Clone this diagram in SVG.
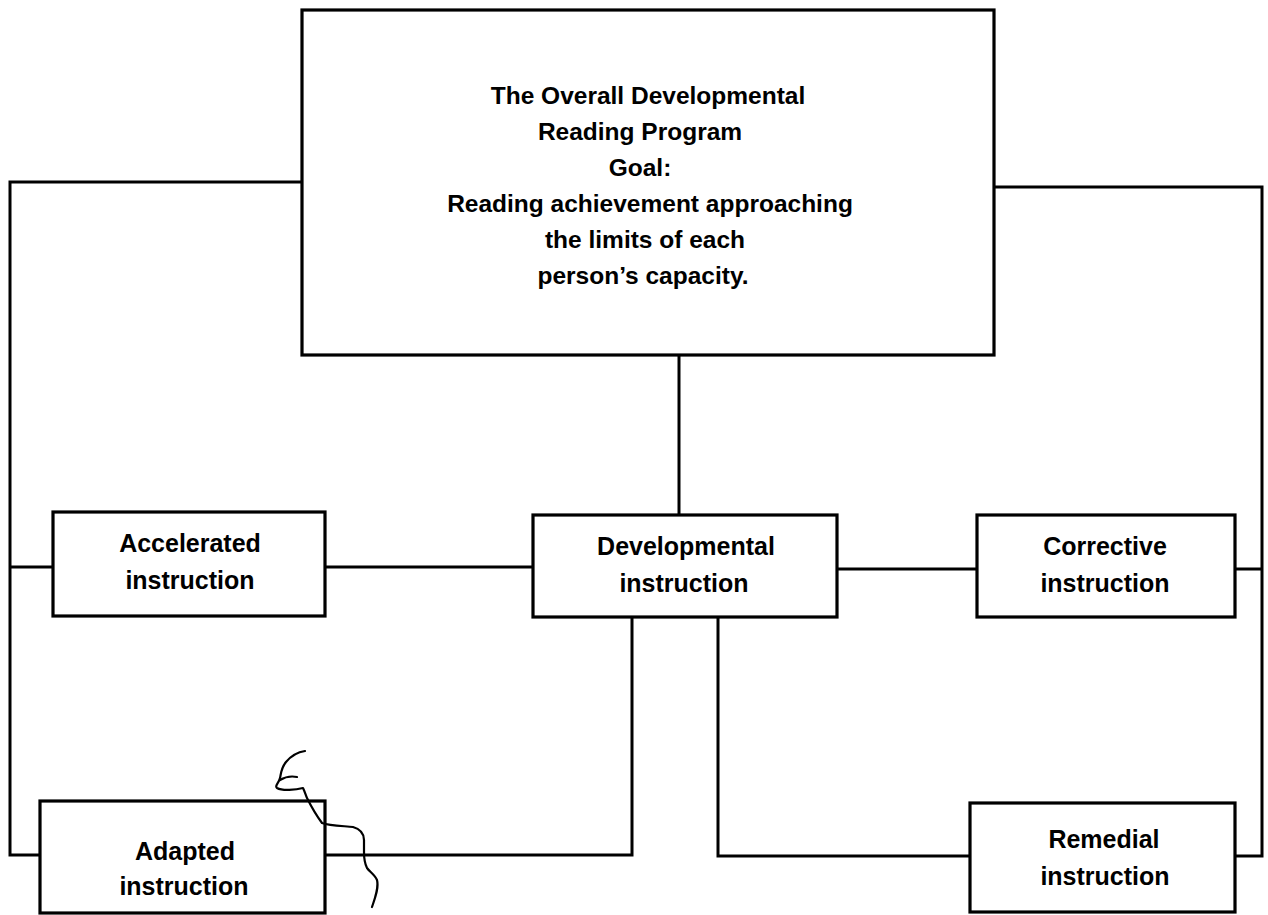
<svg xmlns="http://www.w3.org/2000/svg" width="1268" height="915" viewBox="0 0 1268 915">
<style>
.box{fill:#fff;stroke:#000;stroke-width:3.2}
.ln{fill:none;stroke:#000;stroke-width:3;stroke-linejoin:miter}
.t{font-family:"Liberation Sans",Arial,sans-serif;font-weight:bold;font-size:25px;fill:#000;text-anchor:middle}
.tt{font-family:"Liberation Sans",Arial,sans-serif;font-weight:bold;font-size:24.5px;fill:#000;text-anchor:middle}
.mark{fill:none;stroke:#000;stroke-width:2.2;stroke-linecap:round;stroke-linejoin:round}
</style>
<rect width="1268" height="915" fill="#fff"/>
<g id="connectors">
<polyline class="ln" points="302,182 10,182 10,855 40,855"/>
<line class="ln" x1="10" y1="567" x2="53" y2="567"/>
<polyline class="ln" points="994,187 1262,187 1262,856 1235,856"/>
<line class="ln" x1="1235" y1="569" x2="1262" y2="569"/>
<line class="ln" x1="679" y1="355" x2="679" y2="515"/>
<line class="ln" x1="325" y1="567" x2="533" y2="567"/>
<line class="ln" x1="837" y1="569" x2="977" y2="569"/>
<polyline class="ln" points="632,617 632,855 325,855"/>
<polyline class="ln" points="718,617 718,856 970,856"/>
</g>
<g id="goal">
<rect class="box" x="302" y="10" width="692" height="345"/>
<text class="tt" x="648" y="104">The Overall Developmental</text>
<text class="tt" x="640" y="140">Reading Program</text>
<text class="tt" x="640" y="176">Goal:</text>
<text class="tt" x="650" y="212">Reading achievement approaching</text>
<text class="tt" x="645" y="248">the limits of each</text>
<text class="tt" x="643" y="284">person’s capacity.</text>
</g>
<g id="accelerated">
<rect class="box" x="53" y="512" width="272" height="104"/>
<text class="t" x="190" y="552">Accelerated</text>
<text class="t" x="190" y="589">instruction</text>
</g>
<g id="developmental">
<rect class="box" x="533" y="515" width="304" height="102"/>
<text class="t" x="686" y="555">Developmental</text>
<text class="t" x="684" y="592">instruction</text>
</g>
<g id="corrective">
<rect class="box" x="977" y="515" width="258" height="102"/>
<text class="t" x="1105" y="555">Corrective</text>
<text class="t" x="1105" y="592">instruction</text>
</g>
<g id="adapted">
<rect class="box" x="40" y="801" width="285" height="112"/>
<text class="t" x="185" y="860">Adapted</text>
<text class="t" x="184" y="895">instruction</text>
</g>
<g id="remedial">
<rect class="box" x="970" y="803" width="265" height="109"/>
<text class="t" x="1104" y="848">Remedial</text>
<text class="t" x="1105" y="885">instruction</text>
</g>
<g id="scribble">
<path class="mark" d="M305,751 C298,752 291,756 286,762 C281,768 281,774 280,778 C279,783 274,786 277,788 C282,791 296,790 303,788 C305,792 306,796 307,798 C310,804 316,815 322,823 C330,826 345,826 353,827 C360,829 364,833 364,840 L364,852 C364,858 365,864 367,868 C370,872 375,875 377,880 C379,888 375,898 372,907"/>
<path class="mark" d="M280,780 C285,777 292,776 297,777"/>
</g>
</svg>
